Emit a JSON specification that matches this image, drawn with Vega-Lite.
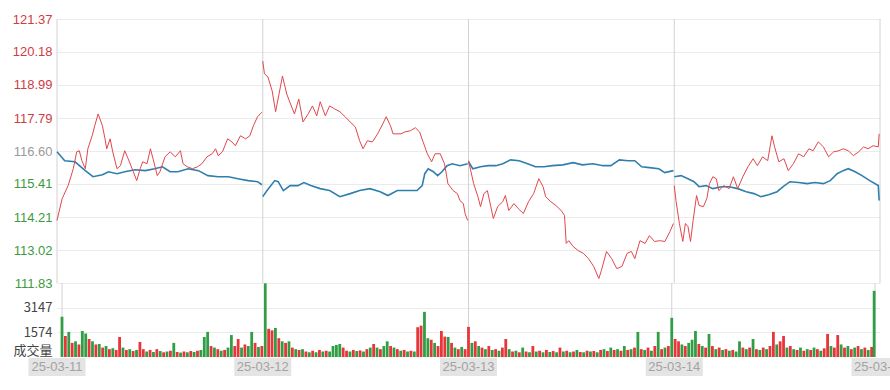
{
"$schema": "https://vega.github.io/schema/vega-lite/v6.json",
"padding": {"left": 12, "top": 13, "right": 0, "bottom": 0},
"background": "white",
"bounds": "flush",
"spacing": 0,
"config": {"view": {"stroke": null}, "axis": {"labelFont": "Liberation Sans", "labelFontSize": 13, "ticks": false, "domain": false, "labelPadding": 5, "labelOverlap": false}},
"resolve": {"scale": {"x": "independent", "y": "independent"}},
"datasets": {
"days": [{"m":0,"label":"25-03-11"},{"m":240,"label":"25-03-12"},{"m":480,"label":"25-03-13"},{"m":720,"label":"25-03-14"},{"m":960,"label":"25-03-17"}],
"price": [
{"d":1,"m":0,"p":114.09},{"d":1,"m":6,"p":114.88},{"d":1,"m":13,"p":115.35},{"d":1,"m":19,"p":115.96},{"d":1,"m":23,"p":116.57},{"d":1,"m":26,"p":116.61},{"d":1,"m":29,"p":116.25},{"d":1,"m":33,"p":115.96},{"d":1,"m":36,"p":116.68},{"d":1,"m":41,"p":117.15},{"d":1,"m":44,"p":117.51},{"d":1,"m":48,"p":117.94},{"d":1,"m":53,"p":117.51},{"d":1,"m":56,"p":117.04},{"d":1,"m":58,"p":116.68},{"d":1,"m":62,"p":117.04},{"d":1,"m":65,"p":116.57},{"d":1,"m":70,"p":115.96},{"d":1,"m":74,"p":116.07},{"d":1,"m":79,"p":116.61},{"d":1,"m":83,"p":116.32},{"d":1,"m":89,"p":115.85},{"d":1,"m":93,"p":115.53},{"d":1,"m":97,"p":115.96},{"d":1,"m":100,"p":116.21},{"d":1,"m":105,"p":116.14},{"d":1,"m":109,"p":116.68},{"d":1,"m":112,"p":116.32},{"d":1,"m":117,"p":115.71},{"d":1,"m":120,"p":115.85},{"d":1,"m":126,"p":116.39},{"d":1,"m":132,"p":116.57},{"d":1,"m":138,"p":116.39},{"d":1,"m":144,"p":116.61},{"d":1,"m":147,"p":116.14},{"d":1,"m":152,"p":116.03},{"d":1,"m":158,"p":115.96},{"d":1,"m":164,"p":116.03},{"d":1,"m":169,"p":116.14},{"d":1,"m":175,"p":116.39},{"d":1,"m":181,"p":116.50},{"d":1,"m":185,"p":116.68},{"d":1,"m":188,"p":116.43},{"d":1,"m":193,"p":116.57},{"d":1,"m":199,"p":117.04},{"d":1,"m":204,"p":116.93},{"d":1,"m":208,"p":116.79},{"d":1,"m":214,"p":117.15},{"d":1,"m":220,"p":117.04},{"d":1,"m":225,"p":117.15},{"d":1,"m":229,"p":117.51},{"d":1,"m":234,"p":117.84},{"d":1,"m":237,"p":117.94},{"d":1,"m":239,"p":118.00},
{"d":2,"m":240,"p":119.85},{"d":2,"m":242,"p":119.39},{"d":2,"m":246,"p":119.28},{"d":2,"m":251,"p":118.77},{"d":2,"m":255,"p":118.02},{"d":2,"m":259,"p":118.66},{"d":2,"m":263,"p":119.31},{"d":2,"m":268,"p":118.66},{"d":2,"m":271,"p":118.41},{"d":2,"m":277,"p":117.94},{"d":2,"m":282,"p":118.48},{"d":2,"m":287,"p":117.65},{"d":2,"m":293,"p":117.94},{"d":2,"m":298,"p":118.23},{"d":2,"m":303,"p":117.87},{"d":2,"m":307,"p":118.38},{"d":2,"m":313,"p":117.87},{"d":2,"m":318,"p":118.23},{"d":2,"m":324,"p":118.12},{"d":2,"m":330,"p":118.02},{"d":2,"m":336,"p":117.84},{"d":2,"m":342,"p":117.65},{"d":2,"m":348,"p":117.47},{"d":2,"m":353,"p":116.97},{"d":2,"m":357,"p":116.68},{"d":2,"m":362,"p":116.97},{"d":2,"m":368,"p":116.93},{"d":2,"m":374,"p":117.22},{"d":2,"m":380,"p":117.58},{"d":2,"m":384,"p":117.84},{"d":2,"m":389,"p":117.51},{"d":2,"m":392,"p":117.22},{"d":2,"m":401,"p":117.22},{"d":2,"m":406,"p":117.29},{"d":2,"m":412,"p":117.33},{"d":2,"m":418,"p":117.44},{"d":2,"m":423,"p":117.29},{"d":2,"m":427,"p":116.93},{"d":2,"m":432,"p":116.50},{"d":2,"m":437,"p":116.21},{"d":2,"m":441,"p":116.50},{"d":2,"m":447,"p":116.50},{"d":2,"m":452,"p":116.14},{"d":2,"m":456,"p":115.42},{"d":2,"m":462,"p":115.17},{"d":2,"m":467,"p":115.06},{"d":2,"m":470,"p":114.81},{"d":2,"m":474,"p":114.70},{"d":2,"m":476,"p":114.34},{"d":2,"m":479,"p":114.09},
{"d":3,"m":480,"p":116.25},{"d":3,"m":486,"p":115.42},{"d":3,"m":491,"p":114.95},{"d":3,"m":494,"p":114.59},{"d":3,"m":498,"p":115.06},{"d":3,"m":502,"p":115.17},{"d":3,"m":506,"p":114.59},{"d":3,"m":509,"p":114.16},{"d":3,"m":514,"p":114.59},{"d":3,"m":520,"p":114.77},{"d":3,"m":523,"p":114.99},{"d":3,"m":527,"p":114.45},{"d":3,"m":533,"p":114.70},{"d":3,"m":538,"p":114.52},{"d":3,"m":544,"p":114.34},{"d":3,"m":550,"p":114.77},{"d":3,"m":556,"p":115.06},{"d":3,"m":562,"p":115.60},{"d":3,"m":567,"p":115.31},{"d":3,"m":570,"p":114.95},{"d":3,"m":576,"p":114.77},{"d":3,"m":582,"p":114.63},{"d":3,"m":588,"p":114.45},{"d":3,"m":592,"p":114.27},{"d":3,"m":594,"p":113.26},{"d":3,"m":597,"p":113.36},{"d":3,"m":602,"p":113.15},{"d":3,"m":608,"p":113.00},{"d":3,"m":614,"p":112.90},{"d":3,"m":620,"p":112.71},{"d":3,"m":626,"p":112.43},{"d":3,"m":632,"p":111.99},{"d":3,"m":635,"p":112.28},{"d":3,"m":641,"p":112.97},{"d":3,"m":647,"p":112.71},{"d":3,"m":653,"p":112.35},{"d":3,"m":659,"p":112.43},{"d":3,"m":665,"p":112.90},{"d":3,"m":670,"p":112.97},{"d":3,"m":674,"p":112.71},{"d":3,"m":680,"p":113.36},{"d":3,"m":686,"p":113.26},{"d":3,"m":691,"p":113.54},{"d":3,"m":697,"p":113.33},{"d":3,"m":703,"p":113.36},{"d":3,"m":709,"p":113.33},{"d":3,"m":715,"p":113.69},{"d":3,"m":719,"p":113.98},
{"d":4,"m":720,"p":115.35},{"d":4,"m":722,"p":114.81},{"d":4,"m":726,"p":113.98},{"d":4,"m":730,"p":113.33},{"d":4,"m":733,"p":113.98},{"d":4,"m":736,"p":113.87},{"d":4,"m":739,"p":113.33},{"d":4,"m":742,"p":114.09},{"d":4,"m":746,"p":114.99},{"d":4,"m":749,"p":114.63},{"d":4,"m":754,"p":114.59},{"d":4,"m":758,"p":114.88},{"d":4,"m":761,"p":115.42},{"d":4,"m":765,"p":115.67},{"d":4,"m":769,"p":115.60},{"d":4,"m":772,"p":115.17},{"d":4,"m":778,"p":115.35},{"d":4,"m":784,"p":115.24},{"d":4,"m":789,"p":115.67},{"d":4,"m":794,"p":115.24},{"d":4,"m":800,"p":115.67},{"d":4,"m":806,"p":116.03},{"d":4,"m":812,"p":116.32},{"d":4,"m":817,"p":116.07},{"d":4,"m":823,"p":116.39},{"d":4,"m":829,"p":116.25},{"d":4,"m":834,"p":117.15},{"d":4,"m":837,"p":116.75},{"d":4,"m":842,"p":116.21},{"d":4,"m":848,"p":116.32},{"d":4,"m":853,"p":115.89},{"d":4,"m":859,"p":116.14},{"d":4,"m":865,"p":116.50},{"d":4,"m":871,"p":116.39},{"d":4,"m":877,"p":116.68},{"d":4,"m":882,"p":116.61},{"d":4,"m":888,"p":116.93},{"d":4,"m":894,"p":116.75},{"d":4,"m":900,"p":116.39},{"d":4,"m":906,"p":116.57},{"d":4,"m":912,"p":116.61},{"d":4,"m":917,"p":116.68},{"d":4,"m":923,"p":116.61},{"d":4,"m":929,"p":116.43},{"d":4,"m":935,"p":116.57},{"d":4,"m":941,"p":116.75},{"d":4,"m":946,"p":116.68},{"d":4,"m":952,"p":116.79},{"d":4,"m":958,"p":116.75},{"d":4,"m":959,"p":117.22}
],
"avg": [
{"d":1,"m":0,"a":116.57},{"d":1,"m":9,"a":116.25},{"d":1,"m":21,"a":116.21},{"d":1,"m":33,"a":115.89},{"d":1,"m":42,"a":115.67},{"d":1,"m":53,"a":115.74},{"d":1,"m":60,"a":115.85},{"d":1,"m":70,"a":115.78},{"d":1,"m":79,"a":115.85},{"d":1,"m":91,"a":115.92},{"d":1,"m":103,"a":115.89},{"d":1,"m":114,"a":115.96},{"d":1,"m":123,"a":116.03},{"d":1,"m":132,"a":115.85},{"d":1,"m":141,"a":115.85},{"d":1,"m":153,"a":115.96},{"d":1,"m":165,"a":115.89},{"d":1,"m":176,"a":115.71},{"d":1,"m":188,"a":115.67},{"d":1,"m":200,"a":115.67},{"d":1,"m":211,"a":115.60},{"d":1,"m":223,"a":115.53},{"d":1,"m":234,"a":115.49},{"d":1,"m":239,"a":115.38},
{"d":2,"m":240,"a":114.95},{"d":2,"m":245,"a":115.17},{"d":2,"m":254,"a":115.53},{"d":2,"m":258,"a":115.49},{"d":2,"m":264,"a":115.17},{"d":2,"m":272,"a":115.35},{"d":2,"m":281,"a":115.35},{"d":2,"m":288,"a":115.46},{"d":2,"m":296,"a":115.35},{"d":2,"m":307,"a":115.24},{"d":2,"m":318,"a":115.17},{"d":2,"m":330,"a":114.95},{"d":2,"m":342,"a":115.06},{"d":2,"m":353,"a":115.17},{"d":2,"m":365,"a":115.24},{"d":2,"m":377,"a":115.13},{"d":2,"m":386,"a":114.99},{"d":2,"m":397,"a":115.17},{"d":2,"m":408,"a":115.17},{"d":2,"m":420,"a":115.17},{"d":2,"m":426,"a":115.35},{"d":2,"m":429,"a":115.78},{"d":2,"m":433,"a":115.96},{"d":2,"m":439,"a":115.85},{"d":2,"m":444,"a":115.71},{"d":2,"m":449,"a":115.85},{"d":2,"m":455,"a":116.07},{"d":2,"m":461,"a":116.14},{"d":2,"m":470,"a":116.07},{"d":2,"m":479,"a":116.14},
{"d":3,"m":480,"a":116.21},{"d":3,"m":485,"a":115.96},{"d":3,"m":494,"a":116.03},{"d":3,"m":503,"a":116.07},{"d":3,"m":512,"a":116.07},{"d":3,"m":520,"a":116.14},{"d":3,"m":529,"a":116.28},{"d":3,"m":539,"a":116.25},{"d":3,"m":549,"a":116.14},{"d":3,"m":558,"a":116.03},{"d":3,"m":568,"a":116.03},{"d":3,"m":578,"a":116.07},{"d":3,"m":590,"a":116.10},{"d":3,"m":602,"a":116.18},{"d":3,"m":613,"a":116.10},{"d":3,"m":625,"a":116.14},{"d":3,"m":637,"a":116.07},{"d":3,"m":646,"a":116.07},{"d":3,"m":656,"a":116.28},{"d":3,"m":666,"a":116.25},{"d":3,"m":674,"a":116.25},{"d":3,"m":682,"a":116.03},{"d":3,"m":691,"a":116.00},{"d":3,"m":702,"a":115.96},{"d":3,"m":709,"a":115.82},{"d":3,"m":719,"a":115.89},
{"d":4,"m":720,"a":115.67},{"d":4,"m":728,"a":115.71},{"d":4,"m":736,"a":115.60},{"d":4,"m":743,"a":115.49},{"d":4,"m":749,"a":115.31},{"d":4,"m":757,"a":115.35},{"d":4,"m":765,"a":115.24},{"d":4,"m":775,"a":115.31},{"d":4,"m":784,"a":115.31},{"d":4,"m":794,"a":115.24},{"d":4,"m":804,"a":115.13},{"d":4,"m":813,"a":115.06},{"d":4,"m":821,"a":114.95},{"d":4,"m":830,"a":115.02},{"d":4,"m":840,"a":115.13},{"d":4,"m":847,"a":115.31},{"d":4,"m":855,"a":115.49},{"d":4,"m":865,"a":115.46},{"d":4,"m":875,"a":115.42},{"d":4,"m":884,"a":115.46},{"d":4,"m":894,"a":115.42},{"d":4,"m":902,"a":115.53},{"d":4,"m":910,"a":115.78},{"d":4,"m":917,"a":115.89},{"d":4,"m":923,"a":115.96},{"d":4,"m":931,"a":115.85},{"d":4,"m":939,"a":115.71},{"d":4,"m":948,"a":115.53},{"d":4,"m":958,"a":115.35},{"d":4,"m":959,"a":114.81}
],
"vol": [
{"m":0,"v":2570,"c":"d"},{"m":4,"v":1340,"c":"u"},{"m":8,"v":1600,"c":"d"},{"m":12,"v":900,"c":"u"},{"m":16,"v":1000,"c":"d"},{"m":20,"v":800,"c":"u"},{"m":24,"v":1660,"c":"d"},{"m":28,"v":1500,"c":"d"},{"m":32,"v":1150,"c":"u"},{"m":36,"v":1000,"c":"d"},{"m":40,"v":800,"c":"u"},{"m":44,"v":830,"c":"d"},{"m":48,"v":600,"c":"u"},{"m":52,"v":700,"c":"d"},{"m":56,"v":500,"c":"u"},{"m":60,"v":560,"c":"d"},{"m":64,"v":450,"c":"u"},{"m":68,"v":1280,"c":"u"},{"m":72,"v":600,"c":"d"},{"m":76,"v":450,"c":"u"},{"m":80,"v":500,"c":"d"},{"m":84,"v":380,"c":"u"},{"m":88,"v":450,"c":"d"},{"m":92,"v":960,"c":"u"},{"m":96,"v":500,"c":"u"},{"m":100,"v":350,"c":"d"},{"m":104,"v":450,"c":"u"},{"m":108,"v":320,"c":"d"},{"m":112,"v":500,"c":"u"},{"m":116,"v":380,"c":"d"},{"m":120,"v":300,"c":"u"},{"m":124,"v":350,"c":"d"},{"m":128,"v":400,"c":"u"},{"m":132,"v":900,"c":"d"},{"m":136,"v":320,"c":"u"},{"m":140,"v":280,"c":"d"},{"m":144,"v":350,"c":"u"},{"m":148,"v":300,"c":"d"},{"m":152,"v":380,"c":"u"},{"m":156,"v":320,"c":"d"},{"m":160,"v":400,"c":"u"},{"m":164,"v":450,"c":"d"},{"m":168,"v":1280,"c":"d"},{"m":172,"v":1600,"c":"d"},{"m":176,"v":700,"c":"u"},{"m":180,"v":600,"c":"d"},{"m":184,"v":500,"c":"u"},{"m":188,"v":400,"c":"d"},{"m":192,"v":450,"c":"u"},{"m":196,"v":600,"c":"d"},{"m":200,"v":1400,"c":"d"},{"m":204,"v":700,"c":"u"},{"m":208,"v":1150,"c":"u"},{"m":212,"v":600,"c":"d"},{"m":216,"v":800,"c":"u"},{"m":220,"v":700,"c":"d"},{"m":224,"v":1600,"c":"d"},{"m":228,"v":900,"c":"u"},{"m":232,"v":640,"c":"d"},{"m":236,"v":700,"c":"u"},
{"m":240,"v":4700,"c":"d"},{"m":244,"v":1800,"c":"u"},{"m":248,"v":1700,"c":"u"},{"m":252,"v":1850,"c":"d"},{"m":256,"v":1200,"c":"u"},{"m":260,"v":1000,"c":"d"},{"m":264,"v":900,"c":"u"},{"m":268,"v":1000,"c":"d"},{"m":272,"v":600,"c":"u"},{"m":276,"v":500,"c":"d"},{"m":280,"v":450,"c":"u"},{"m":284,"v":500,"c":"d"},{"m":288,"v":350,"c":"u"},{"m":292,"v":300,"c":"d"},{"m":296,"v":400,"c":"u"},{"m":300,"v":300,"c":"d"},{"m":304,"v":450,"c":"u"},{"m":308,"v":350,"c":"d"},{"m":312,"v":400,"c":"u"},{"m":316,"v":350,"c":"d"},{"m":320,"v":700,"c":"d"},{"m":324,"v":770,"c":"d"},{"m":328,"v":830,"c":"d"},{"m":332,"v":600,"c":"u"},{"m":336,"v":400,"c":"u"},{"m":340,"v":350,"c":"d"},{"m":344,"v":450,"c":"u"},{"m":348,"v":380,"c":"d"},{"m":352,"v":420,"c":"u"},{"m":356,"v":350,"c":"d"},{"m":360,"v":500,"c":"u"},{"m":364,"v":600,"c":"d"},{"m":368,"v":830,"c":"u"},{"m":372,"v":600,"c":"d"},{"m":376,"v":500,"c":"u"},{"m":380,"v":700,"c":"d"},{"m":384,"v":1000,"c":"d"},{"m":388,"v":700,"c":"u"},{"m":392,"v":600,"c":"d"},{"m":396,"v":500,"c":"u"},{"m":400,"v":400,"c":"d"},{"m":404,"v":450,"c":"u"},{"m":408,"v":350,"c":"d"},{"m":412,"v":400,"c":"u"},{"m":416,"v":350,"c":"d"},{"m":420,"v":1900,"c":"u"},{"m":424,"v":2000,"c":"u"},{"m":428,"v":2880,"c":"d"},{"m":432,"v":1200,"c":"d"},{"m":436,"v":1100,"c":"u"},{"m":440,"v":900,"c":"d"},{"m":444,"v":700,"c":"u"},{"m":448,"v":1660,"c":"u"},{"m":452,"v":1300,"c":"u"},{"m":456,"v":1280,"c":"d"},{"m":460,"v":900,"c":"u"},{"m":464,"v":600,"c":"d"},{"m":468,"v":500,"c":"u"},{"m":472,"v":640,"c":"d"},{"m":476,"v":500,"c":"u"},
{"m":480,"v":1920,"c":"u"},{"m":484,"v":900,"c":"d"},{"m":488,"v":1000,"c":"u"},{"m":492,"v":700,"c":"d"},{"m":496,"v":600,"c":"u"},{"m":500,"v":500,"c":"d"},{"m":504,"v":700,"c":"u"},{"m":508,"v":450,"c":"d"},{"m":512,"v":500,"c":"u"},{"m":516,"v":400,"c":"d"},{"m":520,"v":600,"c":"u"},{"m":524,"v":1150,"c":"u"},{"m":528,"v":500,"c":"d"},{"m":532,"v":350,"c":"u"},{"m":536,"v":400,"c":"d"},{"m":540,"v":300,"c":"u"},{"m":544,"v":600,"c":"d"},{"m":548,"v":350,"c":"u"},{"m":552,"v":300,"c":"d"},{"m":556,"v":700,"c":"u"},{"m":560,"v":350,"c":"d"},{"m":564,"v":400,"c":"u"},{"m":568,"v":300,"c":"d"},{"m":572,"v":450,"c":"u"},{"m":576,"v":320,"c":"d"},{"m":580,"v":380,"c":"u"},{"m":584,"v":300,"c":"d"},{"m":588,"v":600,"c":"u"},{"m":592,"v":350,"c":"d"},{"m":596,"v":400,"c":"u"},{"m":600,"v":300,"c":"d"},{"m":604,"v":350,"c":"u"},{"m":608,"v":450,"c":"d"},{"m":612,"v":320,"c":"u"},{"m":616,"v":300,"c":"d"},{"m":620,"v":400,"c":"u"},{"m":624,"v":350,"c":"d"},{"m":628,"v":380,"c":"u"},{"m":632,"v":300,"c":"d"},{"m":636,"v":450,"c":"u"},{"m":640,"v":500,"c":"d"},{"m":644,"v":380,"c":"u"},{"m":648,"v":600,"c":"d"},{"m":652,"v":450,"c":"u"},{"m":656,"v":500,"c":"d"},{"m":660,"v":400,"c":"u"},{"m":664,"v":700,"c":"d"},{"m":668,"v":450,"c":"u"},{"m":672,"v":500,"c":"d"},{"m":676,"v":600,"c":"u"},{"m":680,"v":1600,"c":"d"},{"m":684,"v":500,"c":"u"},{"m":688,"v":450,"c":"d"},{"m":692,"v":600,"c":"u"},{"m":696,"v":400,"c":"d"},{"m":700,"v":700,"c":"u"},{"m":704,"v":1600,"c":"d"},{"m":708,"v":500,"c":"u"},{"m":712,"v":600,"c":"d"},{"m":716,"v":700,"c":"u"},
{"m":720,"v":2500,"c":"d"},{"m":724,"v":1150,"c":"u"},{"m":728,"v":1000,"c":"u"},{"m":732,"v":800,"c":"d"},{"m":736,"v":700,"c":"u"},{"m":740,"v":900,"c":"d"},{"m":744,"v":1100,"c":"d"},{"m":748,"v":1660,"c":"d"},{"m":752,"v":830,"c":"u"},{"m":756,"v":700,"c":"d"},{"m":760,"v":600,"c":"u"},{"m":764,"v":1470,"c":"d"},{"m":768,"v":700,"c":"u"},{"m":772,"v":500,"c":"d"},{"m":776,"v":600,"c":"u"},{"m":780,"v":450,"c":"d"},{"m":784,"v":500,"c":"u"},{"m":788,"v":400,"c":"d"},{"m":792,"v":450,"c":"u"},{"m":796,"v":350,"c":"d"},{"m":800,"v":1000,"c":"d"},{"m":804,"v":600,"c":"u"},{"m":808,"v":500,"c":"d"},{"m":812,"v":600,"c":"u"},{"m":816,"v":1150,"c":"d"},{"m":820,"v":500,"c":"u"},{"m":824,"v":450,"c":"d"},{"m":828,"v":600,"c":"u"},{"m":832,"v":500,"c":"d"},{"m":836,"v":700,"c":"u"},{"m":840,"v":1600,"c":"u"},{"m":844,"v":800,"c":"d"},{"m":848,"v":1000,"c":"u"},{"m":852,"v":1340,"c":"u"},{"m":856,"v":600,"c":"d"},{"m":860,"v":700,"c":"u"},{"m":864,"v":500,"c":"d"},{"m":868,"v":450,"c":"u"},{"m":872,"v":600,"c":"d"},{"m":876,"v":400,"c":"u"},{"m":880,"v":500,"c":"d"},{"m":884,"v":450,"c":"u"},{"m":888,"v":600,"c":"d"},{"m":892,"v":500,"c":"u"},{"m":896,"v":400,"c":"d"},{"m":900,"v":550,"c":"u"},{"m":904,"v":1470,"c":"u"},{"m":908,"v":700,"c":"d"},{"m":912,"v":600,"c":"u"},{"m":916,"v":1400,"c":"u"},{"m":920,"v":800,"c":"d"},{"m":924,"v":600,"c":"u"},{"m":928,"v":700,"c":"d"},{"m":932,"v":500,"c":"u"},{"m":936,"v":600,"c":"d"},{"m":940,"v":700,"c":"u"},{"m":944,"v":500,"c":"d"},{"m":948,"v":600,"c":"u"},{"m":952,"v":450,"c":"d"},{"m":956,"v":640,"c":"u"},{"m":959,"v":4220,"c":"d"}
]
},
"vconcat": [
{
"width": 823, "height": 264,
"layer": [
{"data": {"name": "days"}, "mark": {"type": "rule", "color": "#d2d2d2", "strokeWidth": 1},
 "encoding": {"x": {"field": "m", "type": "quantitative", "scale": {"domain": [0, 960], "nice": false, "zero": false}, "axis": null}}},
{"data": {"name": "avg"}, "mark": {"type": "line", "color": "#2f7fae", "strokeWidth": 1.6},
 "encoding": {
  "x": {"field": "m", "type": "quantitative", "scale": {"domain": [0, 960], "nice": false, "zero": false}, "axis": null},
  "y": {"field": "a", "type": "quantitative", "scale": {"domain": [111.83, 121.37], "nice": false, "zero": false},
   "axis": {"title": null, "values": [121.37, 120.18, 118.99, 117.79, 116.60, 115.41, 114.21, 113.02, 111.83], "tickCount": 20, "format": ".2f", "grid": true, "gridColor": "#ebebeb", "labelOverlap": false, "labelBound": false, "labelFlush": false,
    "labelColor": {"condition": [{"test": "datum.value > 116.65", "value": "#d23b3f"}, {"test": "datum.value < 116.55", "value": "#3d9a3d"}], "value": "#9a9a9a"}}},
  "detail": {"field": "d"}}},
{"data": {"name": "price"}, "mark": {"type": "line", "color": "#e0474c", "strokeWidth": 1},
 "encoding": {
  "x": {"field": "m", "type": "quantitative", "scale": {"domain": [0, 960], "nice": false, "zero": false}, "axis": null},
  "y": {"field": "p", "type": "quantitative"},
  "detail": {"field": "d"}}}
]
},
{
"width": 823, "height": 74,
"layer": [
{"data": {"name": "days"}, "mark": {"type": "rule", "color": "#d2d2d2", "strokeWidth": 1},
 "encoding": {"x": {"field": "m", "type": "quantitative", "scale": {"domain": [0, 960], "nice": false, "zero": false}, "axis": null}}},
{"data": {"name": "vol"}, "mark": {"type": "bar", "width": 2.8},
 "encoding": {
  "x": {"field": "m", "type": "quantitative", "scale": {"domain": [0, 960], "nice": false, "zero": false}, "axis": null},
  "y": {"field": "v", "type": "quantitative", "scale": {"domain": [0, 4721], "nice": false},
   "axis": {"title": null, "values": [0, 1574, 3147], "tickCount": 10, "format": "d", "grid": true, "gridColor": "#ebebeb", "labelOverlap": false,
    "gridOpacity": {"condition": {"test": "datum.value == 0", "value": 0}, "value": 1},
    "labelExpr": "datum.value == 0 ? '成交量' : datum.label", "labelColor": "#444444", "labelFont": "Noto Sans CJK SC",
    "labelBaseline": {"condition": {"test": "datum.value == 0", "value": "bottom"}, "value": "middle"}}},
  "color": {"field": "c", "type": "nominal", "scale": {"domain": ["u", "d"], "range": ["#e8353a", "#2f9e44"]}, "legend": null}}}
]
},
{
"width": 833, "height": 20,
"data": {"name": "days"},
"encoding": {"x": {"field": "m", "type": "quantitative", "scale": {"domain": [0, 971.67], "nice": false, "zero": false}, "axis": null}},
"layer": [
{"transform": [{"filter": "datum.m < 900"}], "mark": {"type": "tick", "orient": "vertical", "thickness": 57, "size": 18, "color": "#e4e4e4", "opacity": 1}},
{"transform": [{"filter": "datum.m < 900"}], "mark": {"type": "text", "color": "#a3a3a3", "fontSize": 13, "font": "Liberation Sans"}, "encoding": {"text": {"field": "label"}}},
{"transform": [{"filter": "datum.m > 900"}], "mark": {"type": "tick", "orient": "vertical", "thickness": 57, "size": 18, "color": "#e4e4e4", "opacity": 1, "clip": true}},
{"transform": [{"filter": "datum.m > 900"}], "mark": {"type": "text", "color": "#a3a3a3", "fontSize": 13, "font": "Liberation Sans", "clip": true}, "encoding": {"text": {"field": "label"}}}
]
}
]
}
